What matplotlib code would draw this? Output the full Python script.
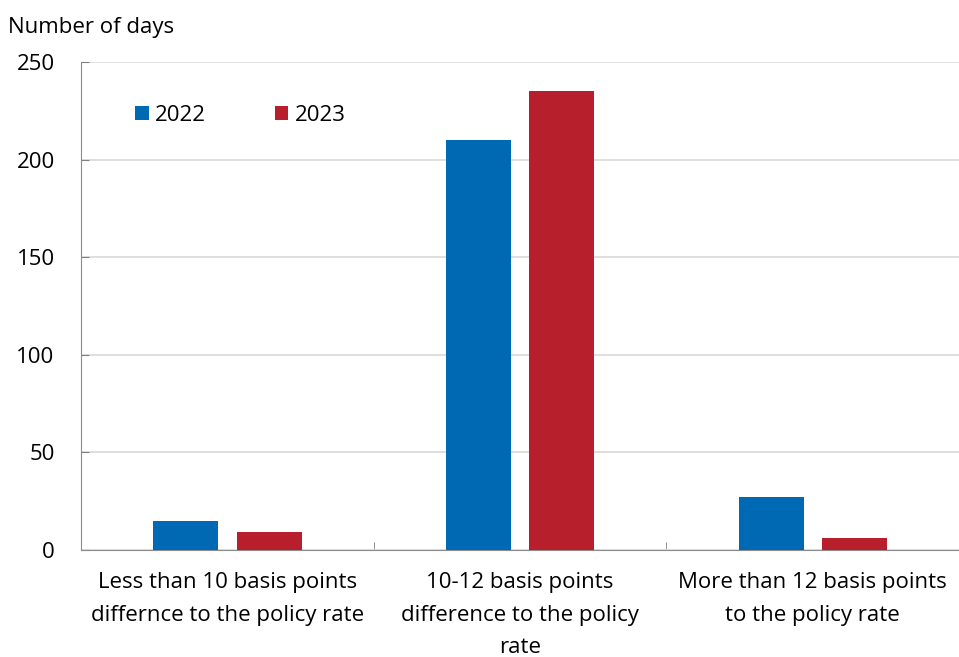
import numpy as np
import matplotlib.pyplot as plt
from matplotlib.ticker import FixedLocator

categories = [
    "Less than 10 basis points\ndiffernce to the policy rate",
    "10-12 basis points\ndifference to the policy\nrate",
    "More than 12 basis points\nto the policy rate",
]
days_2022 = [15, 210, 27]
days_2023 = [9, 235, 6]
y_ticks = [0, 50, 100, 150, 200, 250]

plt.rcParams['font.family'] = ['Open Sans', 'DejaVu Sans']

fig = plt.figure(figsize=(9.59, 6.57), dpi=100)
ax = fig.add_axes([0.0845, 0.163, 0.9155, 0.7425])

x = np.arange(len(categories))
width = 0.222
ax.bar(x - 0.142, days_2022, width, color='#0069B4', label='2022', zorder=3)
ax.bar(x + 0.143, days_2023, width, color='#B81F2D', label='2023', zorder=3)

ax.set_xlim(-0.5, len(categories) - 0.5)
ax.set_ylim(0, 250)
ax.set_yticks(y_ticks)
ax.yaxis.grid(True, color='#d9d9d9', linewidth=1.2, zorder=0)

# category labels centered, boundary ticks pointing up
ax.set_xticks(x)
ax.set_xticklabels(categories, fontsize=16, linespacing=1.72)
ax.tick_params(axis='x', length=0, pad=16)
ax.xaxis.set_minor_locator(FixedLocator([0.5, 1.5, 2.5]))
ax.tick_params(axis='x', which='minor', direction='in', length=6, color='#808080')
ax.tick_params(axis='y', direction='in', length=6, color='#808080',
               pad=19, labelsize=16)

for side in ['top', 'right']:
    ax.spines[side].set_visible(False)
ax.spines['left'].set_color('#8c8c8c')
ax.spines['bottom'].set_color('#8c8c8c')

fig.text(0.008, 0.958, 'Number of days', fontsize=16, ha='left', va='center')

ax.legend(loc='center left', bbox_to_anchor=(0.039, 0.89), ncol=2, frameon=False,
          fontsize=16, handlelength=0.6, handleheight=0.6, handletextpad=0.3,
          columnspacing=3.1)

fig.savefig('out.png', dpi=100)
